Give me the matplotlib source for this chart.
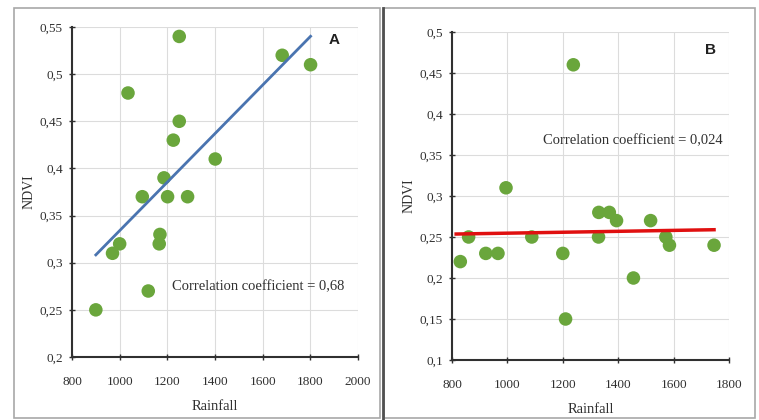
import matplotlib
matplotlib.use("Agg")
import matplotlib.pyplot as plt
import numpy as np
from matplotlib.ticker import FuncFormatter
from matplotlib.patches import Rectangle

# Panel A data
rain_a = [900, 970, 1000, 1035, 1095, 1120, 1169, 1166, 1186, 1201, 1225, 1250, 1250, 1285, 1401, 1682, 1801]
ndvi_a = [0.25, 0.31, 0.32, 0.48, 0.37, 0.27, 0.33, 0.32, 0.39, 0.37, 0.43, 0.45, 0.54, 0.37, 0.41, 0.52, 0.51]
# Panel B data
rain_b = [830, 860, 922, 966, 995, 1088, 1200, 1210, 1238, 1329, 1330, 1368, 1394, 1455, 1517, 1572, 1585, 1746]
ndvi_b = [0.22, 0.25, 0.23, 0.23, 0.31, 0.25, 0.23, 0.15, 0.46, 0.25, 0.28, 0.28, 0.27, 0.20, 0.27, 0.25, 0.24, 0.24]

xticks_a = [800, 1000, 1200, 1400, 1600, 1800, 2000]
yticks_a = [0.2, 0.25, 0.3, 0.35, 0.4, 0.45, 0.5, 0.55]
xticks_b = [800, 1000, 1200, 1400, 1600, 1800]
yticks_b = [0.1, 0.15, 0.2, 0.25, 0.3, 0.35, 0.4, 0.45, 0.5]

corr_a = "Correlation coefficient = 0,68"
corr_b = "Correlation coefficient = 0,024"

fig = plt.figure(figsize=(7.59, 4.2), dpi=100)
fig.patch.set_facecolor("white")

# panel frames
fig.patches.append(Rectangle((14/759, 0.005), (380-14)/759, 1-8/420-0.005, transform=fig.transFigure,
                             fill=False, edgecolor="#a8a8a8", lw=1.2))
fig.patches.append(Rectangle((384/759, 0.005), (755-384)/759, 1-8/420-0.005, transform=fig.transFigure,
                             fill=False, edgecolor="#a8a8a8", lw=1.2))
fig.add_artist(plt.Line2D([383/759, 383/759], [0, 1-8/420], transform=fig.transFigure, color="#505050", lw=2.0))

serif = ["Liberation Serif", "DejaVu Serif"]
sans = ["Liberation Sans", "DejaVu Sans"]

def comma(v, pos):
    s = ("%.2f" % v).rstrip("0").rstrip(".")
    return s.replace(".", ",")

def style(ax, xt, yt):
    ax.set_xticks(xt)
    ax.set_yticks(yt)
    ax.set_xlim(xt[0], xt[-1])
    ax.set_ylim(yt[0], yt[-1])
    ax.yaxis.set_major_formatter(FuncFormatter(comma))
    ax.grid(True, color="#dcdcdc", lw=0.8)
    ax.set_axisbelow(True)
    for s in ["top", "right"]:
        ax.spines[s].set_visible(False)
    for s in ["left", "bottom"]:
        ax.spines[s].set_color("#303030")
        ax.spines[s].set_linewidth(1.5)
    ax.tick_params(direction="inout", length=5, width=1.0, color="#303030", labelsize=9.5)
    ax.tick_params(axis="x", pad=11)
    ax.tick_params(axis="y", pad=4)
    for lab in ax.get_xticklabels() + ax.get_yticklabels():
        lab.set_family(serif)
        lab.set_color("#303030")
    ax.set_xlabel("Rainfall", family=serif, fontsize=10.5, color="#303030", labelpad=9)
    ax.set_ylabel("NDVI", family=serif, fontsize=10, color="#303030", labelpad=3)

green = "#6aa63c"

axA = fig.add_axes([72/759, 1-357/420, (358-72)/759, (357-27)/420])
style(axA, xticks_a, yticks_a)
axA.scatter(rain_a, ndvi_a, s=95, color=green, edgecolors="none", zorder=3)
ca = np.polyfit(rain_a, ndvi_a, 1)
xa = np.array([min(rain_a), max(rain_a)])
axA.plot(xa, np.polyval(ca, xa), color="#4a74b0", lw=2.0, zorder=4)
axA.text(1220, 0.275, corr_a, family=serif, fontsize=10.5, color="#303030", va="center")
axA.text(1898, 0.536, "A", family=sans, fontsize=11, fontweight="bold", color="#202020", va="center", ha="center")

axB = fig.add_axes([452/759, 1-360/420, (729-452)/759, (360-32)/420])
style(axB, xticks_b, yticks_b)
axB.scatter(rain_b, ndvi_b, s=95, color=green, edgecolors="none", zorder=3)
cb = np.polyfit(rain_b, ndvi_b, 1)
xb = np.array([815, max(rain_b)])
axB.plot(xb, np.polyval(cb, xb), color="#e01010", lw=2.5, zorder=4)
axB.text(1130, 0.367, corr_b, family=serif, fontsize=10.5, color="#303030", va="center")
axB.text(1735, 0.478, "B", family=sans, fontsize=11, fontweight="bold", color="#202020", va="center", ha="center")

fig.savefig("out.png", dpi=100, facecolor="white")
